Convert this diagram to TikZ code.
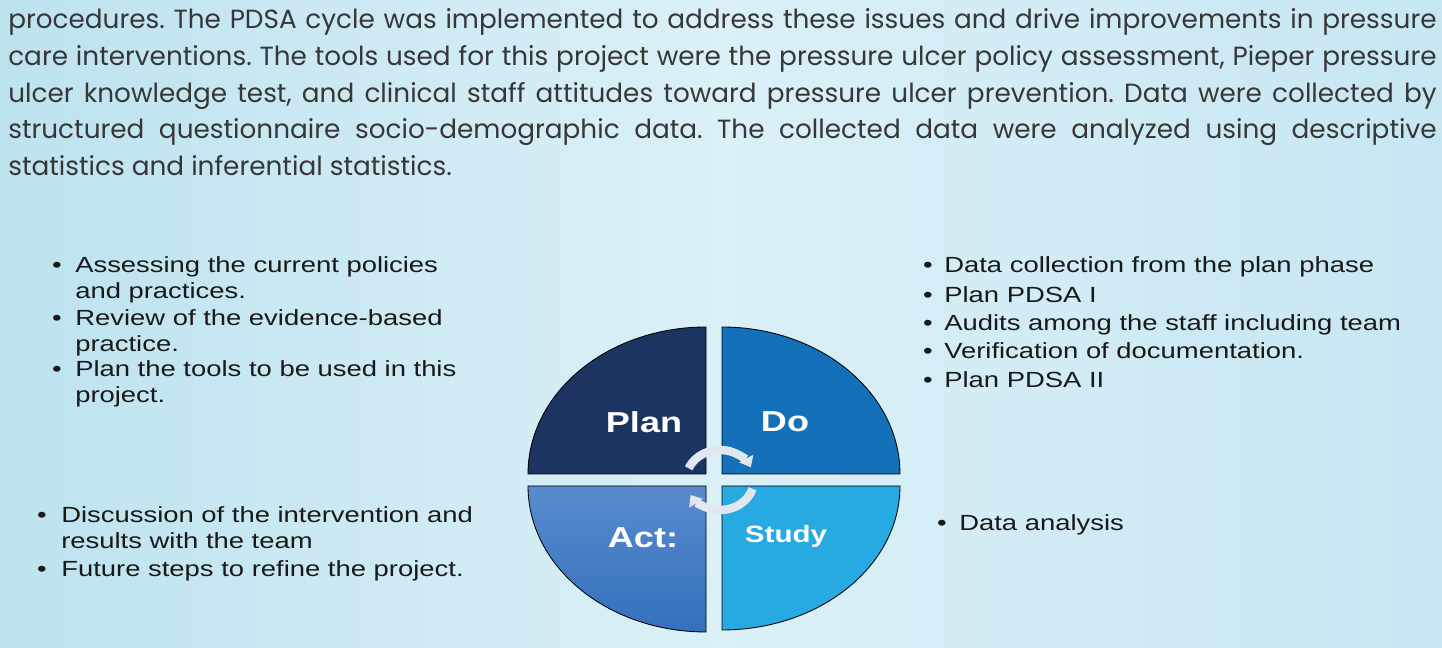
\documentclass[tikz,border=0pt]{standalone}
\usepackage{fontspec}
\usetikzlibrary{arrows.meta}
\newfontfamily\bodyfont{Poppins}
\newfontfamily\listfont[FakeStretch=1.25]{Liberation Sans}
\definecolor{bgside}{RGB}{189,227,239}
\definecolor{bgmid}{RGB}{219,240,247}
\definecolor{bgright}{RGB}{198,231,242}
\definecolor{plancol}{RGB}{28,52,97}
\definecolor{docol}{RGB}{20,112,185}
\definecolor{acttop}{RGB}{88,140,205}
\definecolor{actbot}{RGB}{52,112,188}
\definecolor{studycol}{RGB}{38,170,225}
\definecolor{ink}{RGB}{25,25,25}
\definecolor{paraink}{RGB}{55,55,55}
\definecolor{hubcol}{RGB}{226,231,239}

% bullet, then the item text hung from its first baseline
\newcommand{\pdsaitem}[5]{%
  \node[dot] (#1dot) at (#2,#4) {\textbullet};
  \node[item] (#1) at (#3,#4) {\begin{tabular}[t]{@{}l@{}}#5\end{tabular}};
}

\begin{document}
\frenchspacing
\begin{tikzpicture}[x=0.025cm,y=0.025cm,
    para/.style={anchor=base west,inner sep=0pt,text=paraink,font=\bodyfont\fontsize{18.7}{26}\selectfont},
    item/.style={anchor=base west,inner sep=0pt,text=ink,font=\listfont\fontsize{15.6}{17.8}\selectfont},
    dot/.style={anchor=base,inner sep=0pt,text=ink,font=\listfont\fontsize{15.6}{17.8}\selectfont},
    quad/.style={draw=black,line width=0.6pt},
    phase/.style={text=white,inner sep=0pt,font=\listfont\bfseries\fontsize{20.5}{24}\selectfont},
    cyclearrow/.style={draw=hubcol,line width=6,-{Triangle[length=7pt,width=11pt]}}]
  \useasboundingbox (0,0) rectangle (1442,648);
  \shade[left color=bgside,right color=bgright,middle color=bgmid] (0,0) rectangle (1442,648);

  % paragraph above the cycle
  \node[para] (para1) at (8,619) {\makebox[35.7cm][s]{procedures. The PDSA cycle was implemented to address these issues and drive improvements in pressure}};
  \node[para] (para2) at (8,582) {\makebox[35.7cm][s]{care interventions. The tools used for this project were the pressure ulcer policy assessment, Pieper pressure}};
  \node[para] (para3) at (8,545) {\makebox[35.7cm][s]{ulcer knowledge test, and clinical staff attitudes toward pressure ulcer prevention. Data were collected by}};
  \node[para] (para4) at (8,509) {\makebox[35.7cm][s]{structured questionnaire socio-demographic data. The collected data were analyzed using descriptive}};
  \node[para] (para5) at (8,472) {statistics and inferential statistics.};

  % the four quarters
  \fill[quad,fill=plancol] (706,174) -- (528,174) arc[start angle=180,end angle=90,x radius=178,y radius=147] -- cycle;
  \fill[quad,fill=docol] (722,174) -- (722,321) arc[start angle=90,end angle=0,x radius=178,y radius=147] -- cycle;
  \shadedraw[quad,top color=acttop,bottom color=actbot] (706,162) -- (706,16) arc[start angle=270,end angle=180,x radius=178,y radius=146] -- cycle;
  \fill[quad,fill=studycol] (722,162) -- (900,162) arc[start angle=0,end angle=-90,x radius=178,y radius=144] -- cycle;

  \node[phase] (plan) at (644,226) {Plan};
  \node[phase] (do) at (785,226) {Do};
  \node[phase] (act) at (643,110) {Act:};
  \node[phase,font=\listfont\bfseries\fontsize{16.8}{20}\selectfont] (study) at (786,112) {Study};

  \coordinate (hub) at (720,168);
  \draw[cyclearrow,shift={(hub)}] (157:34 and 30) arc[start angle=157,end angle=25,x radius=34,y radius=30];
  \draw[cyclearrow,shift={(hub)}] (-17:34 and 30) arc[start angle=-17,end angle=-150,x radius=34,y radius=30];

  % plan
  \pdsaitem{plana}{57}{75}{375}{Assessing the current policies\\and practices.}
  \pdsaitem{planb}{57}{75}{322}{Review of the evidence-based\\practice.}
  \pdsaitem{planc}{57}{75}{271}{Plan the tools to be used in this\\project.}
  % do
  \pdsaitem{doa}{928}{944}{375}{Data collection from the plan phase}
  \pdsaitem{dob}{928}{944}{345}{Plan PDSA I}
  \pdsaitem{doc}{928}{944}{317}{Audits among the staff including team}
  \pdsaitem{dod}{928}{944}{289}{Verification of documentation.}
  \pdsaitem{doe}{928}{944}{260}{Plan PDSA II}
  % study
  \pdsaitem{studya}{942}{959}{117}{Data analysis}
  % act
  \pdsaitem{acta}{42}{61}{125}{Discussion of the intervention and\\results with the team}
  \pdsaitem{actb}{42}{61}{71}{Future steps to refine the project.}
\end{tikzpicture}
\end{document}
